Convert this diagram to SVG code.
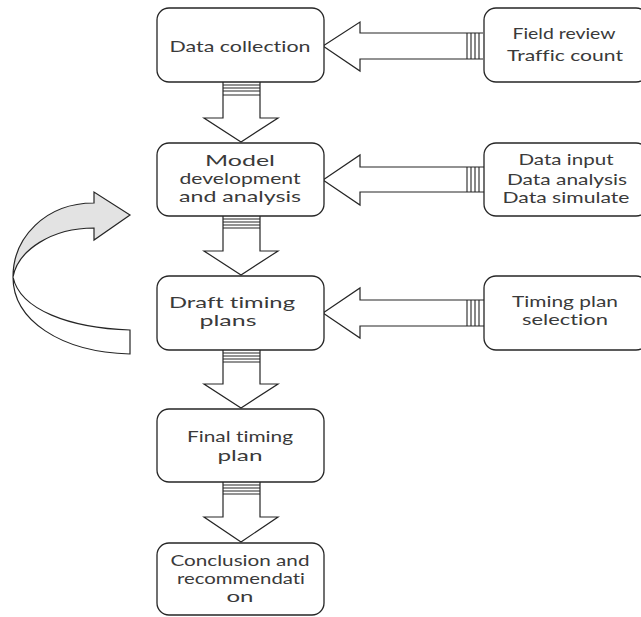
<svg xmlns="http://www.w3.org/2000/svg" width="641" height="617" viewBox="0 0 641 617">
<style>
.box{fill:#fff;stroke:#262626;stroke-width:1.3}
.arr{fill:#fff;stroke:#262626;stroke-width:1.2;stroke-linejoin:miter}
.tk{stroke:#262626;stroke-width:1.1;fill:none}
.t{font-family:Lato,"Open Sans",sans-serif;font-size:16px;fill:#3a3a3a;text-anchor:middle;font-variant-ligatures:none;font-feature-settings:"liga" 0}
</style>
<rect width="641" height="617" fill="#fff"/>
<g id="connectors">
  <g id="h1">
    <path class="arr" d="M483,33 L360,33 L360,22 L323,46 L360,71 L360,59 L483,59"/>
    <path class="tk" d="M467,33V59M471,33V59M475,33V59M479,33V59"/>
  </g>
  <g id="h2">
    <path class="arr" d="M484,167 L360,167 L360,155 L323,180 L360,205 L360,192 L484,192"/>
    <path class="tk" d="M467,167V192M471,167V192M475,167V192M479,167V192"/>
  </g>
  <g id="h3">
    <path class="arr" d="M484,300 L360,300 L360,288 L323,313 L360,338 L360,326 L484,326"/>
    <path class="tk" d="M467,300V326M471,300V326M475,300V326M479,300V326"/>
  </g>
  <g id="v1">
    <path class="arr" d="M223,82 L223,118 L204,118 L241,142 L278,118 L260,118 L260,82"/>
    <path class="tk" d="M223,85H260M223,88H260M223,91H260M223,95H260"/>
  </g>
  <g id="v2">
    <path class="arr" d="M223,216 L223,251 L204,251 L241,275 L278,251 L260,251 L260,216"/>
    <path class="tk" d="M223,219H260M223,222H260M223,225H260M223,228H260"/>
  </g>
  <g id="v3">
    <path class="arr" d="M223,350 L223,384 L204,384 L241,408 L278,384 L260,384 L260,350"/>
    <path class="tk" d="M223,353H260M223,356H260M223,359H260M223,362H260"/>
  </g>
  <g id="v4">
    <path class="arr" d="M223,482 L223,517 L204,517 L241,542 L278,517 L260,517 L260,482"/>
    <path class="tk" d="M223,485H260M223,488H260M223,491H260M223,494H260"/>
  </g>
  <g id="curved">
    <path d="M13,277 C13,320 60,352 130,354 L130,330 C70,328 20,310 13,277 Z" fill="#fff" stroke="#262626" stroke-width="1.2"/>
    <path d="M13,277 C13,238 45,203 94,203 L94,192 L130,215 L94,240 L94,228 C52,228 18,250 13,277 Z" fill="#e3e3e3" stroke="#262626" stroke-width="1.2" stroke-linejoin="miter"/>
  </g>
</g>
<g id="n1">
  <rect class="box" x="157" y="8" width="167" height="74" rx="12"/>
  <text class="t" x="240" y="52" textLength="141" lengthAdjust="spacingAndGlyphs">Data collection</text>
</g>
<g id="n2">
  <rect class="box" x="157" y="143" width="167" height="73" rx="12"/>
  <text class="t" x="240" y="166" textLength="70" lengthAdjust="spacingAndGlyphs">Model</text>
  <text class="t" x="240" y="184" textLength="121" lengthAdjust="spacingAndGlyphs">development</text>
  <text class="t" x="240" y="202" textLength="122" lengthAdjust="spacingAndGlyphs">and analysis</text>
</g>
<g id="n3">
  <rect class="box" x="157" y="276" width="167" height="74" rx="12"/>
  <text class="t" x="232" y="308" textLength="126" lengthAdjust="spacingAndGlyphs">Draft timing</text>
  <text class="t" x="228" y="326" textLength="57" lengthAdjust="spacingAndGlyphs">plans</text>
</g>
<g id="n4">
  <rect class="box" x="157" y="409" width="167" height="73" rx="12"/>
  <text class="t" x="240" y="442" textLength="106" lengthAdjust="spacingAndGlyphs">Final timing</text>
  <text class="t" x="240" y="461" textLength="45" lengthAdjust="spacingAndGlyphs">plan</text>
</g>
<g id="n5">
  <rect class="box" x="157" y="543" width="167" height="72" rx="12"/>
  <text class="t" x="240" y="566" textLength="139" lengthAdjust="spacingAndGlyphs">Conclusion and</text>
  <text class="t" x="241" y="584" textLength="128" lengthAdjust="spacingAndGlyphs">recommendati</text>
  <text class="t" x="240" y="602" textLength="27" lengthAdjust="spacingAndGlyphs">on</text>
</g>
<g id="r1">
  <rect class="box" x="484" y="8" width="164" height="74" rx="12"/>
  <text class="t" x="564" y="39" textLength="103" lengthAdjust="spacingAndGlyphs">Field review</text>
  <text class="t" x="565" y="61" textLength="116" lengthAdjust="spacingAndGlyphs">Traffic count</text>
</g>
<g id="r2">
  <rect class="box" x="484" y="143" width="164" height="73" rx="12"/>
  <text class="t" x="566" y="165" textLength="95" lengthAdjust="spacingAndGlyphs">Data input</text>
  <text class="t" x="567" y="185" textLength="120" lengthAdjust="spacingAndGlyphs">Data analysis</text>
  <text class="t" x="566" y="203" textLength="127" lengthAdjust="spacingAndGlyphs">Data simulate</text>
</g>
<g id="r3">
  <rect class="box" x="484" y="276" width="164" height="74" rx="12"/>
  <text class="t" x="565" y="307" textLength="106" lengthAdjust="spacingAndGlyphs">Timing plan</text>
  <text class="t" x="565" y="325" textLength="86" lengthAdjust="spacingAndGlyphs">selection</text>
</g>
</svg>
